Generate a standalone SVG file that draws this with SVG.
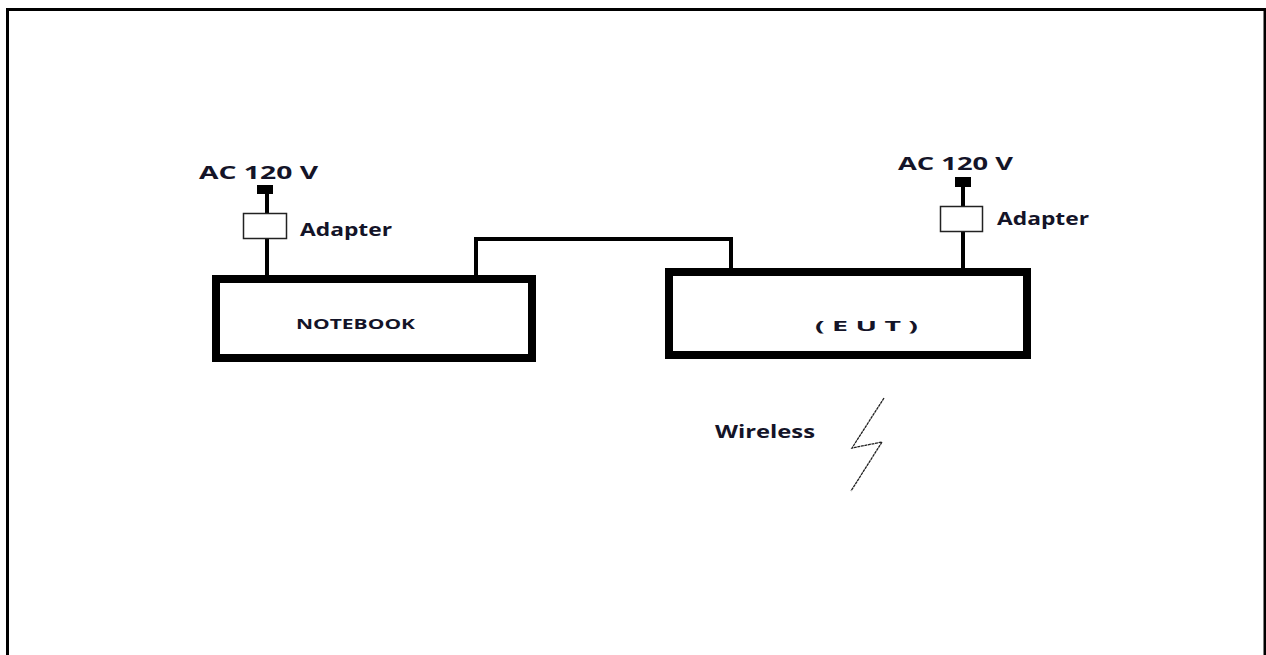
<svg xmlns="http://www.w3.org/2000/svg" width="1266" height="655" viewBox="0 0 1266 655">
<style>
.box{fill:#fff;stroke:#000;stroke-width:8}
.adapter{fill:#fff;stroke:#222;stroke-width:1.5}
.plug{fill:#000}
.wire{stroke:#000;stroke-width:4;fill:none}
.cable{stroke:#000;stroke-width:4;fill:none}
.t{font-family:"Open Sans","DejaVu Sans",sans-serif;font-weight:bold;fill:#141428}
</style>
<rect x="7.5" y="9.5" width="1257.5" height="700" fill="#fff" stroke="#000" stroke-width="3"/>
<g id="connectors">
<polyline class="cable" points="476,277 476,239 731,239 731,270"/>
<line class="wire" x1="267" y1="190" x2="267" y2="277"/>
<line class="wire" x1="963" y1="182" x2="963" y2="270"/>
<polyline points="884,398 852,448 882,442 851,491" fill="none" stroke="#222" stroke-width="1.3" stroke-dasharray="3 0.6"/>
</g>
<g id="notebook">
<rect class="box" x="216" y="279" width="316" height="79"/>
<text class="t" x="296" y="329" font-size="14" textLength="119" lengthAdjust="spacingAndGlyphs">NOTEBOOK</text>
</g>
<g id="eut">
<rect class="box" x="669" y="272" width="358" height="83"/>
<text class="t" x="815" y="331" font-size="15" textLength="103" lengthAdjust="spacingAndGlyphs">( E U T )</text>
</g>
<g id="power-left">
<rect class="plug" x="257" y="185" width="16" height="9"/>
<rect class="adapter" x="243.5" y="213.5" width="43" height="25"/>
<text class="t" x="199" y="179" font-size="17" textLength="119" lengthAdjust="spacingAndGlyphs">AC 120 V</text>
<text class="t" x="300" y="236" font-size="17" textLength="92" lengthAdjust="spacingAndGlyphs">Adapter</text>
</g>
<g id="power-right">
<rect class="plug" x="955" y="177" width="16" height="10"/>
<rect class="adapter" x="940.5" y="206.5" width="42" height="25"/>
<text class="t" x="898" y="170" font-size="17" textLength="115" lengthAdjust="spacingAndGlyphs">AC 120 V</text>
<text class="t" x="997" y="225" font-size="17" textLength="92" lengthAdjust="spacingAndGlyphs">Adapter</text>
</g>
<g id="wireless">
<text class="t" x="715" y="438" font-size="17" textLength="100" lengthAdjust="spacingAndGlyphs">Wireless</text>
</g>
</svg>
